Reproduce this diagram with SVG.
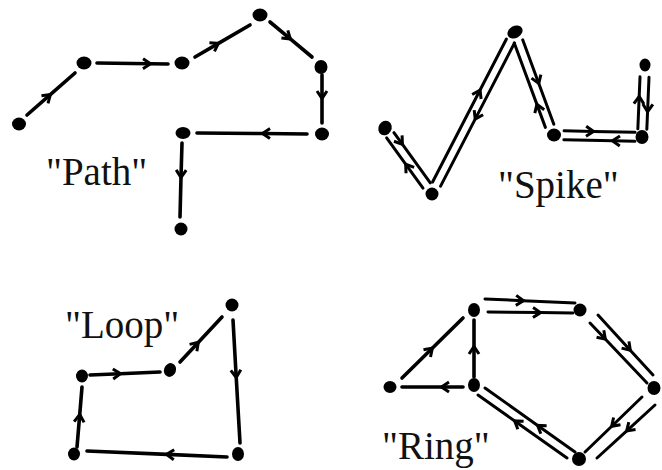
<svg xmlns="http://www.w3.org/2000/svg" width="662" height="470" viewBox="0 0 662 470">
<style>
.e{fill:none;stroke:#000;stroke-width:3.6;stroke-linecap:round;marker-mid:url(#chev)}
.d{fill:none;stroke:#000;stroke-width:3;stroke-linecap:round;marker-mid:url(#chev)}
.n{fill:#000}
.t{font-family:"Liberation Serif","Times New Roman",serif;font-size:39px;fill:#111}
</style>
<defs>
<marker id="chev" viewBox="-9 -9 18 18" refX="0" refY="0" markerWidth="18" markerHeight="18" markerUnits="userSpaceOnUse" orient="auto">
<path d="M-7,-5 L0.5,0 L-7,5" fill="none" stroke="#000" stroke-width="3" stroke-linejoin="miter"/>
</marker>
</defs>
<rect width="662" height="470" fill="#fff"/>
<g id="connectors">
<!-- Path -->
<polyline class="e" points="27,115 50,94.9 75,73"/>
<polyline class="e" points="97,63 150,63.8 168,64"/>
<polyline class="e" points="195,57 218,43.6 250,25"/>
<polyline class="e" points="270,22 290,38.7 312,57"/>
<polyline class="e" points="322,75 322,98 322,123"/>
<polyline class="e" points="307,134 263,133.5 197,133"/>
<polyline class="e" points="182,143 181,177 180,217"/>
<!-- Spike -->
<g transform="translate(385,128) rotate(54.1)">
<polyline class="d" points="9,-4.5 23,-4.5 71,-4.5"/>
<polyline class="d" points="71,4.5 42,4.5 9,4.5"/>
</g>
<g transform="translate(432,193) rotate(-62.7)">
<polyline class="d" points="10,-4.5 113,-4.5 171,-4.5"/>
<polyline class="d" points="171,4.5 86,4.5 10,4.5"/>
</g>
<g transform="translate(515,32) rotate(69.75)">
<polyline class="d" points="10,-4.5 56,-4.5 100,-4.5"/>
<polyline class="d" points="100,4.5 76,4.5 10,4.5"/>
</g>
<g transform="translate(553,135) rotate(1.3)">
<polyline class="d" points="11,-4.5 40,-4.5 82,-4.5"/>
<polyline class="d" points="82,4.5 60,4.5 11,4.5"/>
</g>
<g transform="translate(642,137) rotate(-87.6)">
<polyline class="d" points="8,-4.5 40,-4.5 60,-4.5"/>
<polyline class="d" points="60,4.5 26,4.5 8,4.5"/>
</g>
<!-- Loop -->
<polyline class="e" points="180,362 198,342.7 222,317"/>
<polyline class="e" points="233,320 236.2,377 240,443"/>
<polyline class="e" points="227,457 167,454.4 87,451"/>
<polyline class="e" points="77,447 79.7,415 82,387"/>
<polyline class="e" points="90,375 120,373.7 160,372"/>
<!-- Ring -->
<polyline class="e" points="402,378 432,348.5 463,318"/>
<polyline class="e" points="474,377 474,347 474,320"/>
<polyline class="e" points="463,387 442,387 402,387"/>
<polyline class="d" points="485,299 523,300.7 575,303"/>
<polyline class="d" points="488,312 540,312.6 573,313"/>
<polyline class="d" points="598,315 630,349.9 653,375"/>
<polyline class="d" points="590,323 605,338.8 647,383"/>
<polyline class="d" points="642,397 612,426 585,452"/>
<polyline class="d" points="655,405 627,430.6 597,458"/>
<polyline class="d" points="575,452 538,425.7 485,388"/>
<polyline class="d" points="567,458 515,421.2 478,395"/>
</g>
<g id="path-nodes">
<ellipse id="pA" class="n" cx="19" cy="124" rx="7" ry="6.5"/>
<ellipse id="pB" class="n" cx="84" cy="63" rx="7.5" ry="6.5"/>
<ellipse id="pC" class="n" cx="182" cy="63" rx="7.5" ry="6.5"/>
<ellipse id="pD" class="n" cx="260" cy="15" rx="7.5" ry="6.5"/>
<ellipse id="pE" class="n" cx="321" cy="67" rx="6.5" ry="7"/>
<ellipse id="pF" class="n" cx="322" cy="134" rx="7" ry="6.5"/>
<ellipse id="pG" class="n" cx="183" cy="133" rx="7.5" ry="6"/>
<ellipse id="pH" class="n" cx="181" cy="229" rx="6.5" ry="6.5"/>
</g>
<g id="spike-nodes">
<ellipse id="s1" class="n" cx="385" cy="128" rx="6.5" ry="7.5" transform="rotate(30 385 128)"/>
<ellipse id="s2" class="n" cx="432" cy="194" rx="6.5" ry="6.5"/>
<ellipse id="s3" class="n" cx="515" cy="32" rx="8" ry="6" transform="rotate(-30 515 32)"/>
<ellipse id="s4" class="n" cx="554" cy="135" rx="7" ry="6.5"/>
<ellipse id="s5" class="n" cx="642" cy="137" rx="6.5" ry="7"/>
<ellipse id="s6" class="n" cx="645" cy="65" rx="5.5" ry="6.5"/>
</g>
<g id="loop-nodes">
<ellipse id="l1" class="n" cx="232" cy="305" rx="6.5" ry="6.5"/>
<ellipse id="l2" class="n" cx="170" cy="370" rx="6" ry="7" transform="rotate(20 170 370)"/>
<ellipse id="l3" class="n" cx="82" cy="376" rx="6" ry="6.5"/>
<ellipse id="l4" class="n" cx="74" cy="454" rx="6" ry="6.5"/>
<ellipse id="l5" class="n" cx="238" cy="454" rx="6" ry="7"/>
</g>
<g id="ring-nodes">
<ellipse id="r1" class="n" cx="390" cy="387" rx="6.5" ry="6"/>
<ellipse id="r2" class="n" cx="474" cy="310" rx="6" ry="7"/>
<ellipse id="r3" class="n" cx="580" cy="310" rx="6.5" ry="6.5"/>
<ellipse id="r4" class="n" cx="654" cy="388" rx="6.5" ry="7"/>
<ellipse id="r5" class="n" cx="579" cy="459" rx="7" ry="7"/>
<ellipse id="r6" class="n" cx="474" cy="385" rx="6" ry="7"/>
</g>
<g id="labels">
<text class="t" x="46" y="185">"Path"</text>
<text class="t" x="498" y="198">"Spike"</text>
<text class="t" x="65" y="338">"Loop"</text>
<text class="t" x="382" y="459">"Ring"</text>
</g>
</svg>
